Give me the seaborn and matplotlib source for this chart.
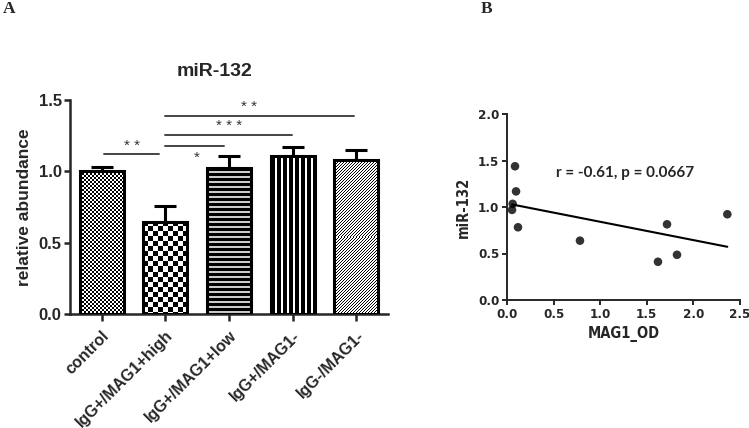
import numpy as np
import pandas as pd
import matplotlib
matplotlib.use('Agg')
import matplotlib.pyplot as plt
import seaborn as sns

# Panel A: miR-132 relative abundance per group (mean + SEM)
groups = ['control', 'IgG+/MAG1+high', 'IgG+/MAG1+low', 'IgG+/MAG1-', 'IgG-/MAG1-']
means = [1.00, 0.645, 1.02, 1.11, 1.08]
sems = [0.03, 0.112, 0.09, 0.06, 0.07]
patterns = ['fine_check', 'coarse_check', 'hlines', 'vlines', 'diag']

# significance brackets
sig_start = [0.03, 1.0, 1.0, 1.0]
sig_end = [0.9, 1.92, 2.99, 3.97]
sig_height = [1.12, 1.177, 1.254, 1.388]
sig_label = ['* *', '*', '* * *', '* *']
sig_text_x = [0.47, 1.5, 2.0, 2.31]
sig_text_below = [False, True, False, False]

# Panel B: correlation
mag1_od = [0.086, 0.097, 0.061, 0.054, 0.118, 0.783, 1.62, 1.717, 1.824, 2.364]
mir132 = [1.438, 1.168, 1.034, 0.969, 0.782, 0.638, 0.411, 0.814, 0.486, 0.922]
corr_text = 'r = -0.61, p = 0.0667'

sns.set_style('ticks')
plt.rcParams['font.family'] = ['Liberation Sans', 'DejaVu Sans']
plt.rcParams['font.weight'] = 'bold'
narrow = ['DejaVu Sans']

fig = plt.figure(figsize=(7.49, 4.28), dpi=100)
W, H = 749, 428


def px_axes(x0, y_top, x1, y_bottom):
    return fig.add_axes([x0 / W, 1 - y_bottom / H, (x1 - x0) / W, (y_bottom - y_top) / H])


def texture(kind, h, w):
    yy, xx = np.mgrid[0:h, 0:w]
    if kind == 'fine_check':
        return ((xx // 2 + yy // 2) % 2) * 1.0
    if kind == 'coarse_check':
        return ((xx // 5 + yy // 5) % 2) * 1.0
    if kind == 'hlines':
        return np.where(yy % 5 < 3, 0.0, 0.8)
    if kind == 'vlines':
        return np.where(xx % 6 < 4, 0.0, 1.0)
    return np.where((xx + yy) % 3 == 0, 0.0, 1.0)


# ---------------- Panel A ----------------
ax = px_axes(70, 100, 388, 314)
df = pd.DataFrame({'group': groups, 'value': means})
sns.barplot(data=df, x='group', y='value', ax=ax, errorbar=None, width=0.69,
            color='white', edgecolor='black', linewidth=2.2, zorder=3)
ax.set_xlim(-0.5, 4.5)
ax.set_ylim(0, 1.5)
ax.errorbar(range(len(groups)), means, yerr=[np.zeros(len(sems)), sems], fmt='none',
            ecolor='black', elinewidth=2.2, capsize=8, capthick=2.2, zorder=1.5)

# fill the bars with patterned images clipped to each bar
for patch, kind in zip(ax.patches, patterns):
    patch.set_facecolor('none')
    x0, y0 = patch.get_x(), patch.get_y()
    x1, y1 = x0 + patch.get_width(), y0 + patch.get_height()
    p0 = ax.transData.transform((x0, y0))
    p1 = ax.transData.transform((x1, y1))
    w_px = max(int(round(abs(p1[0] - p0[0]))), 1)
    h_px = max(int(round(abs(p1[1] - p0[1]))), 1)
    img = ax.imshow(texture(kind, h_px, w_px), cmap='gray', vmin=0, vmax=1,
                    extent=(x0, x1, y0, y1), aspect='auto', interpolation='nearest',
                    zorder=2)
    img.set_clip_path(patch)
ax.set_xlim(-0.5, 4.5)
ax.set_ylim(0, 1.5)

for s, e, h, lab, tx, below in zip(sig_start, sig_end, sig_height, sig_label,
                                   sig_text_x, sig_text_below):
    ax.plot([s, e], [h, h], color='#444444', lw=1.4, zorder=4)
    if below:
        ax.text(tx, h - 0.03, lab, ha='center', va='top', fontsize=11,
                color='#333333', fontweight='normal')
    else:
        ax.text(tx, h + 0.012, lab, ha='center', va='bottom', fontsize=11,
                color='#333333', fontweight='normal')

sns.despine(ax=ax)
ax.spines['left'].set_linewidth(1.8)
ax.spines['bottom'].set_linewidth(1.8)
ax.set_yticks([0, 0.5, 1.0, 1.5])
ax.set_yticklabels(['0.0', '0.5', '1.0', '1.5'], fontsize=12, fontweight='bold')
ax.set_xticks(range(len(groups)))
ax.set_xticklabels(groups, rotation=45, ha='right', rotation_mode='anchor',
                   fontsize=11.5, fontweight='bold')
ax.tick_params(axis='both', direction='out', length=4, width=1.8, pad=2)
ax.tick_params(axis='x', length=5, pad=5)
ax.set_xlabel('')
ax.set_ylabel('relative abundance', fontsize=12.5, fontweight='bold', labelpad=5)
fig.text(214 / W, 1 - 71 / H, 'miR-132', ha='center', va='center',
         fontsize=14, fontweight='bold')

# ---------------- Panel B ----------------
bx = px_axes(507, 114, 740, 300)
sns.regplot(x=mag1_od, y=mir132, ax=bx, ci=None, color='black',
            scatter_kws=dict(s=38, edgecolor='none', zorder=3),
            line_kws=dict(lw=1.5, color='black'))
bx.set_xlim(0, 2.5)
bx.set_ylim(0, 2.0)
sns.despine(ax=bx)
bx.spines['left'].set_linewidth(1.4)
bx.spines['bottom'].set_linewidth(1.4)
bx.set_xticks([0, 0.5, 1.0, 1.5, 2.0, 2.5])
bx.set_xticklabels(['0.0', '0.5', '1.0', '1.5', '2.0', '2.5'],
                   family=narrow, stretch='condensed', fontsize=9.5, fontweight='bold')
bx.set_yticks([0, 0.5, 1.0, 1.5, 2.0])
bx.set_yticklabels(['0.0', '0.5', '1.0', '1.5', '2.0'],
                   family=narrow, stretch='condensed', fontsize=9.5, fontweight='bold')
bx.tick_params(axis='both', direction='out', length=3.5, width=1.4, pad=2)
bx.set_xlabel('MAG1_OD', family=narrow, stretch='condensed', fontsize=10.5,
              fontweight='bold', labelpad=4)
bx.set_ylabel('miR-132', family=narrow, stretch='condensed', fontsize=10.5,
              fontweight='bold', labelpad=5)
fig.text(625 / W, 1 - 173 / H, corr_text, ha='center', va='center',
         family=['Lato', 'DejaVu Sans'], fontsize=11, fontweight='bold')

# panel letters
fig.text(3 / W, 1 - 9 / H, 'A', family=['Liberation Serif'], fontsize=12.5,
         fontweight='bold', ha='left', va='center')
fig.text(481 / W, 1 - 9 / H, 'B', family=['Liberation Serif'], fontsize=12.5,
         fontweight='bold', ha='left', va='center')

fig.savefig('out.png', dpi=100)
